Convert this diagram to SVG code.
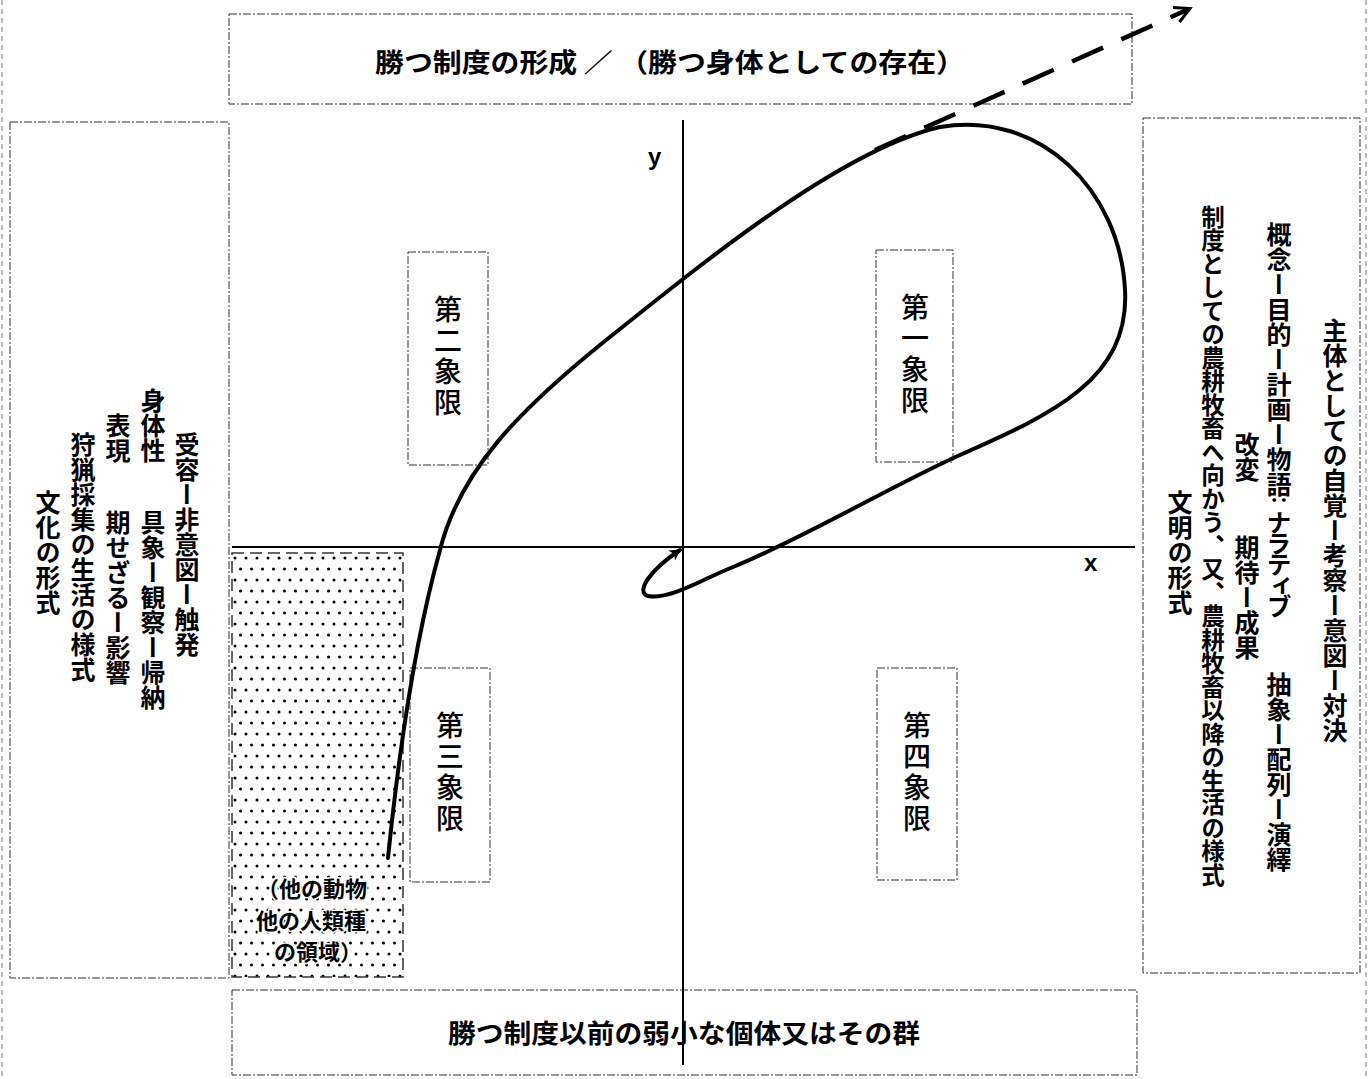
<svg xmlns="http://www.w3.org/2000/svg" width="1370" height="1079" viewBox="0 0 1370 1079">
<defs>
<style>
.box{fill:none;stroke:#333;stroke-width:1;stroke-dasharray:8 2 2 2;}
.edge{fill:none;stroke:#777;stroke-width:1;stroke-dasharray:5 4;}
.axis{stroke:#000;stroke-width:2;fill:none;}
.v{font-family:"Noto Sans CJK JP","Noto Sans CJK SC",sans-serif;font-size:25px;font-weight:700;writing-mode:vertical-rl;fill:#000;}
.q{font-family:"Noto Sans CJK JP","Noto Sans CJK SC",sans-serif;font-size:28px;font-weight:500;writing-mode:vertical-rl;fill:#000;letter-spacing:3px;}
.h{font-family:"Noto Sans CJK JP","Noto Sans CJK SC",sans-serif;font-size:26px;font-weight:700;fill:#000;}
.s{font-family:"Noto Sans CJK JP","Noto Sans CJK SC",sans-serif;font-size:22px;font-weight:700;fill:#000;stroke:#fff;stroke-width:3px;paint-order:stroke;text-anchor:middle;}
.lbl{font-family:"Liberation Sans",Arial,sans-serif;font-size:24px;font-weight:700;fill:#000;}
</style>
<pattern id="dots" width="11" height="22" patternUnits="userSpaceOnUse" x="232" y="553">
<circle cx="3" cy="5" r="1.5" fill="#000"/>
<circle cx="8.5" cy="16" r="1.5" fill="#000"/>
</pattern>
<marker id="ah" markerWidth="14" markerHeight="14" refX="10" refY="7" orient="auto" markerUnits="userSpaceOnUse">
<path d="M0,1 L11,7 L0,13 L3,7 Z" fill="#000"/>
</marker>
<marker id="ah2" markerWidth="22" markerHeight="22" refX="18" refY="11" orient="auto" markerUnits="userSpaceOnUse">
<path d="M4,3 L19,11 L4,19" fill="none" stroke="#000" stroke-width="3"/>
</marker>
</defs>
<rect width="1370" height="1079" fill="#fff"/>
<line class="edge" x1="2" y1="0" x2="2" y2="1079"/>
<line class="edge" x1="1366" y1="0" x2="1366" y2="1079"/>

<g id="top-box">
<rect class="box" x="229" y="14" width="903" height="90"/>
<text class="h" x="375" y="72" textLength="590" lengthAdjust="spacingAndGlyphs">勝つ制度の形成 ／ （勝つ身体としての存在）</text>
</g>

<g id="bottom-box">
<rect class="box" x="232" y="990" width="905" height="85"/>
<text class="h" x="448" y="1043" textLength="472" lengthAdjust="spacingAndGlyphs">勝つ制度以前の弱小な個体又はその群</text>
</g>

<g id="left-box">
<rect class="box" x="10" y="122" width="219" height="856"/>
<text class="v" x="187" y="432">受容ー非意図ー触発</text>
<text class="v" x="153" y="388">身体性</text>
<text class="v" x="153" y="510">具象ー観察ー帰納</text>
<text class="v" x="118" y="413">表現</text>
<text class="v" x="118" y="510">期せざるー影響</text>
<text class="v" x="83" y="432">狩猟採集の生活の様式</text>
<text class="v" x="48" y="490">文化の形式</text>
</g>

<g id="right-box">
<rect class="box" x="1143" y="118" width="217" height="855"/>
<text class="v" x="1335" y="318">主体としての自覚ー考察ー意図ー対決</text>
<text class="v" x="1279" y="222">概念ー目的ー計画ー物語</text>
<text class="v" x="1279" y="490" style="font-size:20px">：</text>
<text class="v" x="1279" y="510" style="letter-spacing:-4px">ナラティブ</text>
<text class="v" x="1279" y="672">抽象ー配列ー演繹</text>
<text class="v" x="1247" y="432">改変</text>
<text class="v" x="1247" y="535">期待ー成果</text>
<text class="v" x="1213" y="205" style="font-size:23.5px">制度としての農耕牧畜へ向かう、又、農耕牧畜以降の生活の様式</text>
<text class="v" x="1180" y="490">文明の形式</text>
</g>

<g id="other-region">
<rect x="232" y="553" width="171" height="424" fill="url(#dots)"/>
<rect class="box" x="232" y="553" width="171" height="424" style="stroke-dasharray:12 6;stroke-width:1.5"/>
<text class="s" x="312" y="897">（他の動物</text>
<text class="s" x="311" y="929">他の人類種</text>
<text class="s" x="318" y="960">の領域）</text>
</g>

<g id="q2">
<rect class="box" x="408" y="252" width="80" height="213"/>
<text class="q" x="448" y="295">第二象限</text>
</g>
<g id="q1">
<rect class="box" x="876" y="250" width="77" height="212"/>
<text class="q" x="915" y="293">第一象限</text>
</g>
<g id="q3">
<rect class="box" x="410" y="668" width="80" height="214"/>
<text class="q" x="450" y="711">第三象限</text>
</g>
<g id="q4">
<rect class="box" x="877" y="668" width="80" height="212"/>
<text class="q" x="917" y="711">第四象限</text>
</g>

<g id="axes">
<line class="axis" x1="232" y1="547" x2="1135" y2="547"/>
<line class="axis" x1="683" y1="120" x2="683" y2="1065"/>
<text class="lbl" x="648" y="165">y</text>
<text class="lbl" x="1084" y="571">x</text>
</g>

<g id="connectors">
<path d="M 388 858 C 398 760, 415 640, 440 550 C 460 470, 520 410, 600 345 C 700 265, 840 150, 940 127 C 1040 110, 1120 190, 1125 290 C 1130 380, 1050 415, 960 455 C 895 484, 800 540, 733 567 C 703 579, 670 600, 648 596 C 635 592, 650 570, 680 550" fill="none" stroke="#000" stroke-width="4" stroke-linecap="round" marker-end="url(#ah)"/>
<path d="M 875 150 L 1189 9" fill="none" stroke="#000" stroke-width="4.5" stroke-dasharray="34 20" marker-end="url(#ah2)"/>
</g>
</svg>
